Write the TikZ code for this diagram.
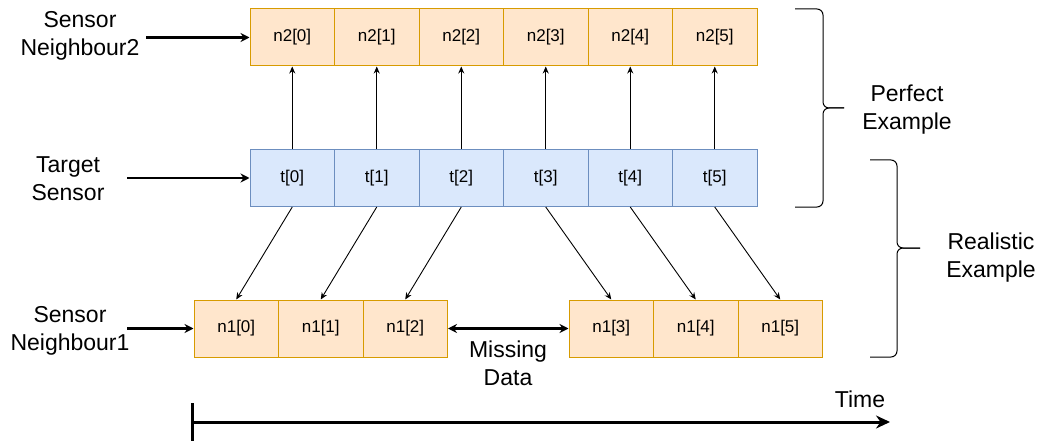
\documentclass[tikz,border=0pt]{standalone}
\usepackage{fontspec}
\setmainfont{Liberation Sans}
\usetikzlibrary{arrows.meta}
\definecolor{orfill}{HTML}{FFE6CC}
\definecolor{ordraw}{HTML}{D79B00}
\definecolor{blfill}{HTML}{DAE8FC}
\definecolor{bldraw}{HTML}{6C8EBF}
\tikzset{
  cell/.style={draw, line width=1pt, minimum width=84.5pt, minimum height=57pt,
    inner sep=0pt, font=\fontsize{17}{20}\selectfont},
  ncell/.style={cell, fill=orfill, draw=ordraw},
  tcell/.style={cell, fill=blfill, draw=bldraw},
  lbl/.style={align=center, inner sep=0pt, font=\fontsize{23}{28}\selectfont},
  link/.style={line width=0.9pt, -{Stealth[length=7pt,width=6pt]}},
  feed/.style={line width=2.2pt, -{Stealth[length=9pt,width=9pt]}},
  brace/.style={line width=1pt, rounded corners=6pt},
}
\begin{document}
\begin{tikzpicture}[x=1pt,y=-1pt]
\useasboundingbox (0,0) rectangle (1042,441);

% top row: neighbour 2, and target row
\foreach \i/\x in {0/292.25,1/376.75,2/461.25,3/545.75,4/630.25,5/714.75}{
  \node[ncell] (m\i) at (\x,37.5) {n2[\i]};
  \node[tcell] (t\i) at (\x,178) {t[\i]};
}
% bottom row: neighbour 1 with a gap
\foreach \i/\x in {0/236.25,1/320.75,2/405.25,3/611.25,4/695.75,5/780.25}{
  \node[ncell] (b\i) at (\x,328.5) {n1[\i]};
}

% row labels
\node[lbl] (lm) at (80,36) {Sensor\\Neighbour2};
\node[lbl] (lt) at (68,179) {Target\\Sensor};
\node[lbl] (lb) at (70,331) {Sensor\\Neighbour1};
\coordinate (sm) at (146,37.5);
\coordinate (st) at (127,178);
\coordinate (sb) at (127,328.5);
\draw[feed] (sm) -- (m0.west);
\draw[feed] (st) -- (t0.west);
\draw[feed] (sb) -- (b0.west);

% target to neighbours
\foreach \i in {0,...,5}{
  \draw[link] (t\i.north) -- (m\i.south);
  \draw[link] (t\i.south) -- (b\i.north);
}

% missing data gap
\draw[line width=2.2pt, {Stealth[length=9pt,width=9pt]}-{Stealth[length=9pt,width=9pt]}] (b2.east) -- (b3.west);
\node[lbl] (md) at (508,363) {Missing\\Data};

% braces
\coordinate (pt) at (795,9);
\coordinate (pb) at (795,207);
\coordinate (pk) at (844,108);
\draw[brace] (pt) -- (823,9) -- (823,108) -- (pk);
\draw[brace] (pb) -- (823,207) -- (823,108) -- (pk);
\node[lbl] (pe) at (907,110) {Perfect\\Example};

\coordinate (rt) at (870,160);
\coordinate (rb) at (870,357);
\coordinate (rk) at (920,248);
\draw[brace] (rt) -- (897,160) -- (897,248) -- (rk);
\draw[brace] (rb) -- (897,357) -- (897,248) -- (rk);
\node[lbl] (re) at (991,258) {Realistic\\Example};

% time axis
\coordinate (ta) at (192,422);
\coordinate (tb) at (890,422);
\draw[line width=3pt] (192,403) -- (192,441);
\draw[line width=3pt, -{Stealth[length=14pt,width=13pt]}] (ta) -- (tb);
\node[lbl] (tm) at (860,399) {Time};
\end{tikzpicture}
\end{document}
